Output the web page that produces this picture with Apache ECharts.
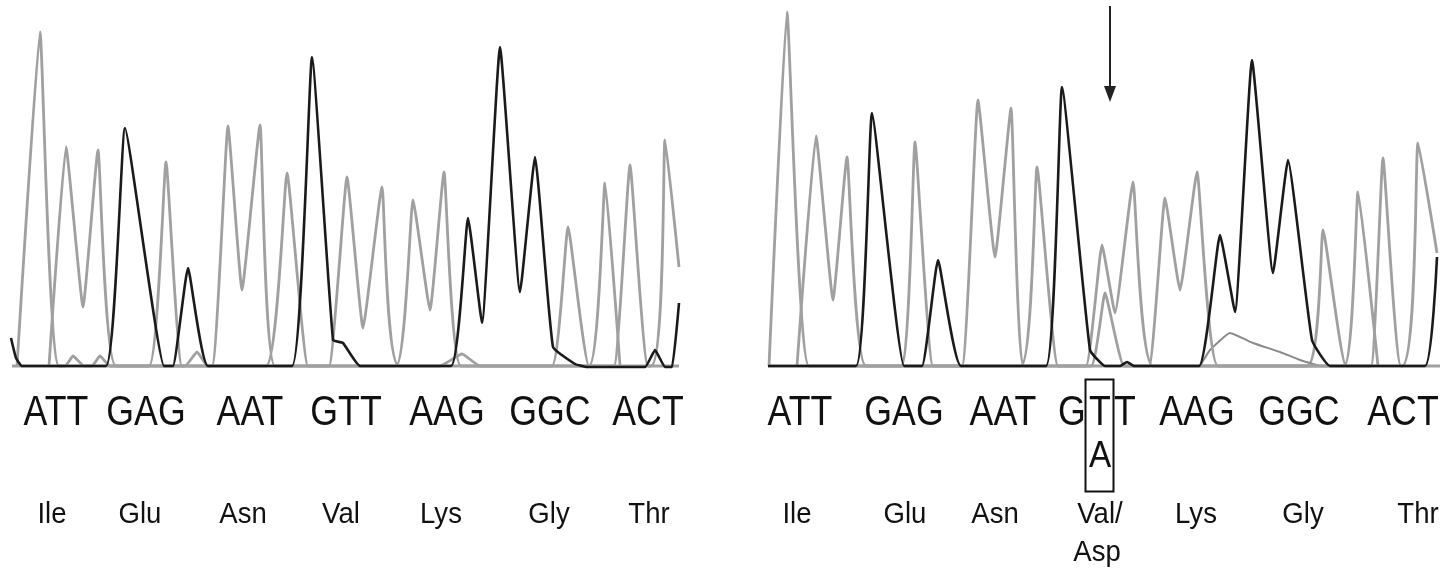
<!DOCTYPE html>
<html><head><meta charset="utf-8">
<script src="https://cdn.jsdelivr.net/npm/echarts@6/dist/echarts.min.js"></script>
<style>html,body{margin:0;padding:0;background:#fff}#c{width:1453px;height:568px}</style>
</head><body><div id="c"></div>
<script>
// Trace data: [scan position, signal] for each base channel
const leftA = [[17,4],[40,338],[59,4],[149,4],[166,208],[182,4],[212,4],[228,244],[242,80],[260,245],[275,4],[396,4],[413,170],[430,60],[444,198],[461,4],[589,4],[605,187],[620,4]];
const leftT = [[49,4],[66,223],[83,63],[98,220],[116,4],[266,4],[287,197],[308,4],[329,4],[347,193],[363,42],[382,183],[399,4],[651,4],[665,230],[679,103]];
const leftC = [[12,4],[65,4],[73,14],[84,4],[92,4],[100,14],[110,4],[185,4],[197,18],[208,4],[440,4],[462,16],[480,4],[552,4],[568,143],[589,4],[614,4],[630,205],[648,4],[679,4]];
const leftG = [[11,32],[16,12],[22,4],[106,4],[125,242],[164,4],[173,4],[188,102],[208,4],[292,4],[312,313],[333,30],[343,27],[360,4],[451,4],[468,152],[482,47],[500,323],[520,78],[535,213],[553,23],[575,6],[587,3],[645,3],[655,20],[665,3],[672,3],[679,67]];

const rightA = [[9,4],[27,358],[49,4],[141,4],[155,228],[173,4],[202,4],[218,270],[235,113],[251,262],[264,4],[331,4],[345,77],[364,4],[389,4],[405,172],[420,80],[437,198],[458,4],[584,4],[598,178],[618,4]];
const rightT = [[37,4],[56,234],[73,70],[87,213],[106,4],[261,4],[277,203],[298,4],[326,4],[342,125],[355,57],[373,188],[393,4],[642,4],[658,227],[677,117]];
const rightC = [[8,4],[547,4],[563,140],[586,4],[611,4],[623,212],[641,4],[680,4]];
const rightHump = [[440,4],[450,20],[470,37],[493,27],[520,18],[540,10],[560,4]];
const rightG = [[8,4],[96,4],[112,257],[144,4],[162,4],[178,110],[201,4],[286,4],[302,283],[330,20],[345,4],[360,4],[367,8],[374,4],[439,4],[460,135],[475,58],[492,310],[513,97],[528,210],[552,30],[570,4],[665,4],[677,113]];

// Text labels
const codonsLeft = ['ATT','GAG','AAT','GTT','AAG','GGC','ACT'];
const codonsRight = ['ATT','GAG','AAT','GTT','AAG','GGC','ACT'];
const aminoLeft = ['Ile','Glu','Asn','Val','Lys','Gly','Thr'];
const aminoRight = ['Ile','Glu','Asn','Val/','Lys','Gly','Thr'];
const aminoRightExtra = 'Asp';
const mutantBase = 'A';

// Layout (positions kept separate from data)
const codonXLeft = [56,146,250,346,447,550,648];
const codonXRight = [800,904,1003,null,1197,1299,1403];
const gttLetterX = [1072,1100,1125];
const aminoXLeft = [52,140,243,341,441,549,649];
const aminoXRight = [797,905,995,1100,1196,1303,1418];

const GRAY = '#a0a0a0', BLACK = '#1a1a1a', MID = '#8a8a8a';
function trace(data, idx, color, w) {
  return { type:'line', data, xAxisIndex:idx, yAxisIndex:idx, showSymbol:false, smooth:0.12,
    lineStyle:{color, width:w}, silent:true, animation:false, z: color===BLACK?3:2 };
}
const chart = echarts.init(document.getElementById('c'), null, {renderer:'canvas'});
const CODON_FONT = '43px "Liberation Sans", Arial, sans-serif';
const AMINO_FONT = '29px "Liberation Sans", Arial, sans-serif';
const graphics = [];
function txt(t, x, y, font, sx) {
  graphics.push({type:'text', x, y, scaleX: sx||1, silent:true,
    style:{text:t, font, fill:'#111', textAlign:'center', textVerticalAlign:'middle'}});
}
codonsLeft.forEach((c,i)=>txt(c, codonXLeft[i], 413, CODON_FONT, 0.83));
codonsRight.forEach((c,i)=>{ if (codonXRight[i]!==null) txt(c, codonXRight[i], 413, CODON_FONT, 0.83); });
codonsRight[3].split('').forEach((ch,i)=>txt(ch, gttLetterX[i], 413, CODON_FONT, 0.83));
aminoLeft.forEach((a,i)=>txt(a, aminoXLeft[i], 515, AMINO_FONT, 0.95));
aminoRight.forEach((a,i)=>txt(a, aminoXRight[i], 515, AMINO_FONT, 0.95));
txt(aminoRightExtra, 1097, 553, AMINO_FONT, 0.95);
txt(mutantBase, 1100, 457, '37px "Liberation Sans", Arial, sans-serif', 0.9);
graphics.push({type:'rect', shape:{x:1085.5, y:379.5, width:28, height:112}, style:{fill:null, stroke:'#111', lineWidth:2}, silent:true});
graphics.push({type:'line', shape:{x1:1110, y1:6, x2:1110, y2:90}, style:{stroke:'#222', lineWidth:2}, silent:true});
graphics.push({type:'polygon', shape:{points:[[1104,86],[1116,86],[1110,102]]}, style:{fill:'#222'}, silent:true});

chart.setOption({
  animation:false,
  backgroundColor:'#fff',
  grid:[{left:0, top:0, width:690, height:370}, {left:760, top:0, width:690, height:370}],
  xAxis:[{gridIndex:0, type:'value', min:0, max:690, show:false},{gridIndex:1, type:'value', min:0, max:690, show:false}],
  yAxis:[{gridIndex:0, type:'value', min:0, max:370, show:false},{gridIndex:1, type:'value', min:0, max:370, show:false}],
  series:[
    trace(leftC,0,GRAY,2.8), trace(leftA,0,GRAY,2.8), trace(leftT,0,GRAY,2.8), trace(leftG,0,BLACK,2.6),
    trace(rightC,1,GRAY,2.8), trace(rightHump,1,MID,2), trace(rightA,1,GRAY,2.8), trace(rightT,1,GRAY,2.8), trace(rightG,1,BLACK,2.6)
  ],
  graphic: graphics
});
</script></body></html>
